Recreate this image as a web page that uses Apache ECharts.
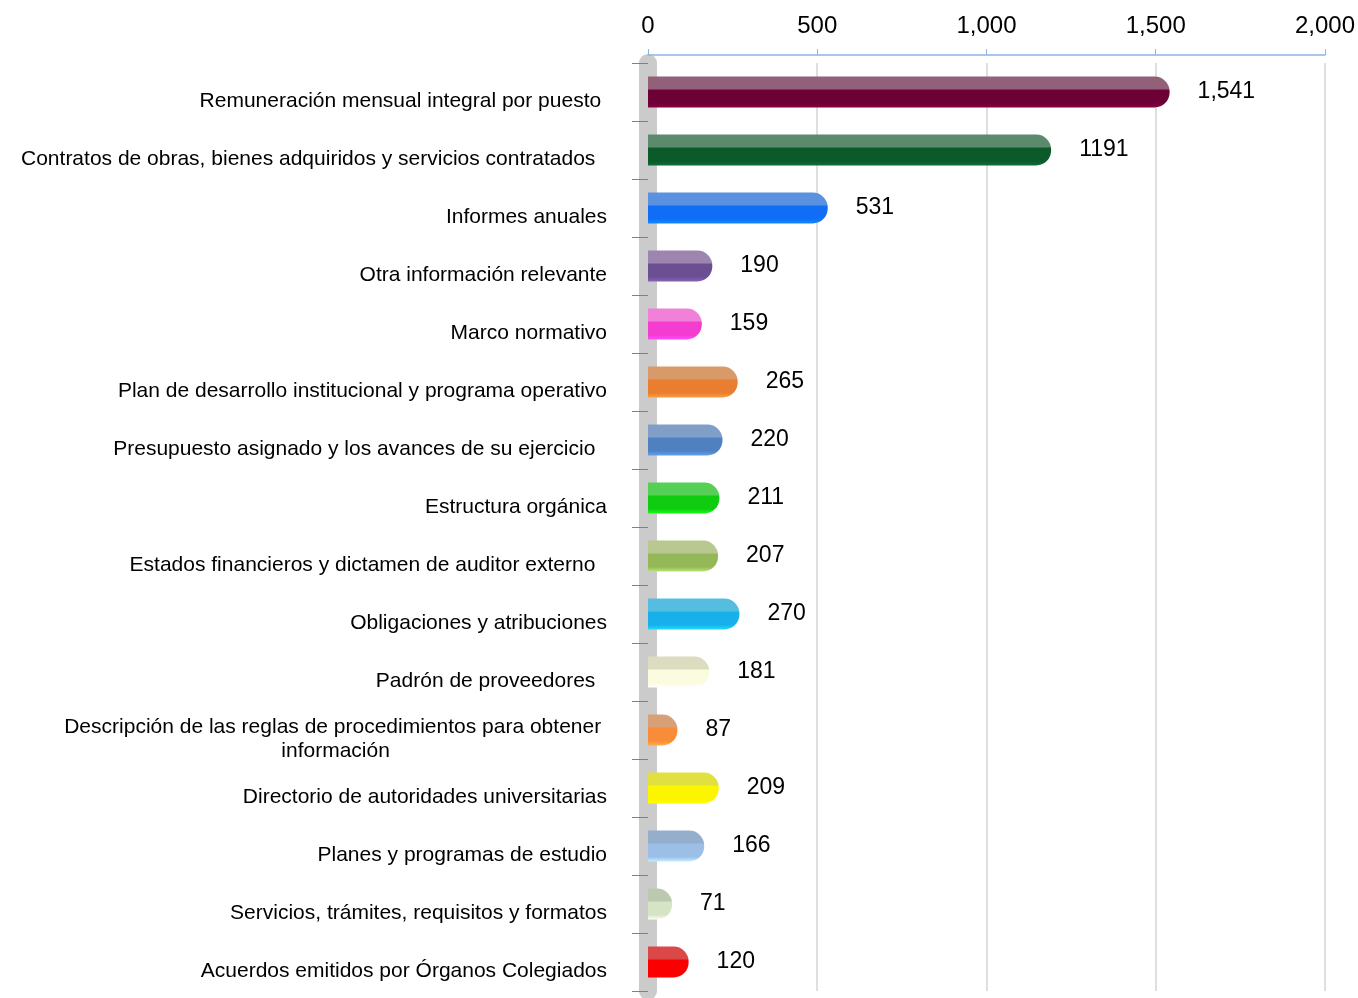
<!DOCTYPE html>
<html>
<head>
<meta charset="utf-8">
<script src="https://cdn.jsdelivr.net/npm/echarts@6/dist/echarts.min.js"></script>
<style>
html,body{margin:0;padding:0;background:#fff;}
#chart{width:1358px;height:998px;}
</style>
</head>
<body>
<div id="chart"></div>
<script>
var categories = [
  'Remuneración mensual integral por puesto ',
  'Contratos de obras, bienes adquiridos y servicios contratados  ',
  'Informes anuales',
  'Otra información relevante',
  'Marco normativo',
  'Plan de desarrollo institucional y programa operativo',
  'Presupuesto asignado y los avances de su ejercicio  ',
  'Estructura orgánica',
  'Estados financieros y dictamen de auditor externo  ',
  'Obligaciones y atribuciones',
  'Padrón de proveedores  ',
  'Descripción de las reglas de procedimientos para obtener \ninformación',
  'Directorio de autoridades universitarias',
  'Planes y programas de estudio',
  'Servicios, trámites, requisitos y formatos',
  'Acuerdos emitidos por Órganos Colegiados'
];
var values = [1541, 1191, 531, 190, 159, 265, 220, 211, 207, 270, 181, 87, 209, 166, 71, 120];
var valueLabels = ['1,541', '1191', '531', '190', '159', '265', '220', '211', '207', '270', '181', '87', '209', '166', '71', '120'];
var xTickValues = [0, 500, 1000, 1500, 2000];
var xTickLabels = ['0', '500', '1,000', '1,500', '2,000'];
var topColors = ['#93607a', '#5c8a6c', '#5b92e0', '#9c86b0', '#f080d8', '#d89a68', '#7f9fc8', '#55d055',
                 '#b8c890', '#55bde0', '#dcdcc0', '#d8a078', '#e0e040', '#94aecb', '#bcc8b0', '#dc4848'];
var frontColors = ['#6d0035', '#0a5a2a', '#0f6ef5', '#6c4f92', '#f43cd0', '#e97d30', '#4f81c0', '#10cc10',
                   '#94b858', '#18b0ea', '#fbfbe0', '#f88c38', '#fbf500', '#9cbfe8', '#d4e4c4', '#fa0000'];

var chart = echarts.init(document.getElementById('chart'));
var FONT = "'Liberation Sans', Arial, sans-serif";

var data = values.map(function (v, i) {
  return {
    value: v,
    itemStyle: {
      color: new echarts.graphic.LinearGradient(0, 0, 0, 1, [
        { offset: 0, color: topColors[i] },
        { offset: 0.4, color: topColors[i] },
        { offset: 0.44, color: frontColors[i] },
        { offset: 0.85, color: frontColors[i] },
        { offset: 1, color: echarts.color.lift(frontColors[i], -0.25) }
      ])
    }
  };
});

var option = {
  backgroundColor: '#ffffff',
  animation: false,
  grid: { left: 648, right: 31, top: 63, bottom: 7, containLabel: false },
  xAxis: {
    type: 'value',
    position: 'top',
    offset: 8,
    min: 0,
    max: 2000,
    interval: 500,
    axisLine: { show: true, lineStyle: { color: '#8db3e2', width: 1.5 } },
    axisTick: { show: true, length: 6, lineStyle: { color: '#8db3e2' } },
    axisLabel: {
      margin: 17,
      fontSize: 24,
      color: '#000',
      fontFamily: FONT,
      formatter: function (v) {
        var idx = xTickValues.indexOf(v);
        return idx >= 0 ? xTickLabels[idx] : '';
      }
    },
    splitLine: { show: true, lineStyle: { color: '#d4d4d4', width: 1.5 } }
  },
  yAxis: {
    type: 'category',
    inverse: true,
    data: categories,
    offset: 10,
    axisLine: { show: true, lineStyle: { color: '#cbcbcb', width: 18 } },
    axisTick: { show: true, length: 16, lineStyle: { color: '#808080', width: 1 } },
    axisLabel: {
      margin: 31,
      fontSize: 21,
      color: '#000',
      fontFamily: FONT,
      padding: [18, 0, 0, 0],
      formatter: function (v) {
        if (v.indexOf('\n') >= 0) {
          return v.split('\n').map(function (l) { return '{c|' + l + '}'; }).join('\n');
        }
        return v;
      },
      rich: {
        c: { align: 'center', fontSize: 21, lineHeight: 24, color: '#000', fontFamily: FONT }
      }
    }
  },
  series: [{
    type: 'bar',
    data: data,
    barWidth: 31,
    itemStyle: { borderRadius: [0, 15, 15, 0] },
    label: {
      show: true,
      position: 'right',
      distance: 28,
      fontSize: 23,
      color: '#000',
      fontFamily: FONT,
      formatter: function (p) { return valueLabels[p.dataIndex]; }
    }
  }]
};
chart.setOption(option);
</script>
</body>
</html>
